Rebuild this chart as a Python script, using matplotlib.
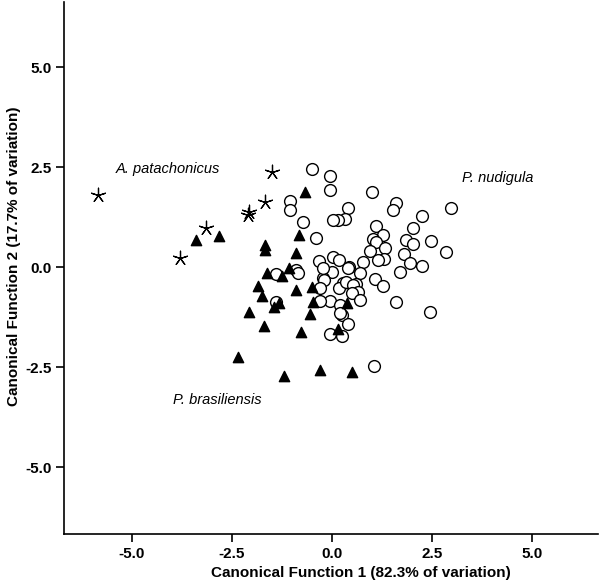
import matplotlib
matplotlib.use("Agg")
import matplotlib.pyplot as plt

plt.rcParams['font.family'] = ['Liberation Sans', 'DejaVu Sans']

# A. patachonicus (asterisks)
apat_x = [-5.85, -3.15, -3.78, -1.50, -1.67, -2.06, -2.10]
apat_y = [1.81, 0.98, 0.23, 2.39, 1.62, 1.37, 1.30]

# P. brasiliensis (filled triangles)
pbra_x = [-3.39, -2.81, -0.67, -0.81, -1.67, -1.67, -0.88, -1.61, -1.23, -1.06,
          -1.84, -0.88, -0.48, -1.73, -0.46, -2.06, -1.44, -1.31, -0.54, -1.69,
          -0.77, 0.16, 0.38, -2.33, -1.19, -0.29, 0.50]
pbra_y = [0.68, 0.77, 1.89, 0.81, 0.56, 0.42, 0.35, -0.14, -0.21, -0.03,
          -0.48, -0.58, -0.49, -0.72, -0.86, -1.13, -1.00, -0.90, -1.17, -1.48,
          -1.63, -1.55, -0.90, -2.25, -2.72, -2.57, -2.63]

# P. nudigula (open circles)
pnud_x = [-0.50, -0.04, -0.03, -1.04, -1.05, 1.02, 1.62, 1.54, 0.42, 0.33,
          0.17, 0.04, -0.72, 2.25, 2.98, 2.04, 1.11, 1.29, 1.04, 1.11,
          1.87, 2.03, 2.48, 2.85, -0.38, 0.96, 1.33, 1.81, 1.30, 1.17,
          0.04, 0.19, -0.32, 0.44, 0.79, 2.27, 1.96, 1.71, 0.00, -0.21,
          0.70, 1.08, 1.28, -0.88, -0.84, -1.39, 0.29, 0.62, -0.21, 0.40,
          -0.19, -0.29, 0.19, 0.37, 0.54, 0.67, 0.50, 0.71, -0.04, -0.28,
          0.21, 0.27, 0.42, -0.04, 0.25, 1.61, 2.46, 1.06, -1.38, 0.21]
pnud_y = [2.46, 2.28, 1.93, 1.65, 1.42, 1.88, 1.60, 1.43, 1.48, 1.21,
          1.18, 1.17, 1.14, 1.29, 1.49, 0.97, 1.04, 0.81, 0.70, 0.62,
          0.68, 0.59, 0.66, 0.39, 0.73, 0.41, 0.47, 0.34, 0.20, 0.17,
          0.26, 0.17, 0.16, 0.00, 0.14, 0.03, 0.10, -0.12, -0.13, -0.28,
          -0.15, -0.30, -0.46, -0.08, -0.14, -0.18, -0.40, -0.42, -0.02, -0.03,
          -0.32, -0.53, -0.53, -0.36, -0.44, -0.61, -0.65, -0.83, -0.84, -0.84,
          -0.94, -1.19, -1.42, -1.67, -1.72, -0.86, -1.11, -2.47, -0.86, -1.15]

ticks = [-5.0, -2.5, 0.0, 2.5, 5.0]
tick_labels = ["-5.0", "-2.5", "0.0", "2.5", "5.0"]

fig = plt.figure(figsize=(6, 5.85), dpi=100)
ax = fig.add_axes([0.1072, 0.0867, 0.8895, 0.91])

ax.scatter(pnud_x, pnud_y, s=72, marker='o', facecolors='white',
           edgecolors='black', linewidths=1.0, zorder=2)
ax.scatter(pbra_x, pbra_y, s=55, marker='^', color='black', zorder=3)
ax.scatter(apat_x, apat_y, s=110, marker=(5, 2, 0), color='black',
           linewidths=0.9, zorder=4)

ax.text(-4.1, 2.45, "A. patachonicus", style='italic', fontsize=10.5,
        ha='center', va='center')
ax.text(4.16, 2.23, "P. nudigula", style='italic', fontsize=10.5,
        ha='center', va='center')
ax.text(-2.87, -3.32, "P. brasiliensis", style='italic', fontsize=10.5,
        ha='center', va='center')

ax.set_xlim(-6.685, 6.66)
ax.set_ylim(-6.675, 6.63)
ax.set_xticks(ticks)
ax.set_xticklabels(tick_labels, fontweight='bold', fontsize=11)
ax.set_yticks(ticks)
ax.set_yticklabels(tick_labels, fontweight='bold', fontsize=11)

for side in ['top', 'right']:
    ax.spines[side].set_visible(False)
for side in ['left', 'bottom']:
    ax.spines[side].set_linewidth(1.2)
ax.tick_params(direction='out', length=5.8, width=1.2, pad=3.5)

ax.set_xlabel("Canonical Function 1 (82.3% of variation)", fontweight='bold',
              fontsize=11)
ax.set_ylabel("Canonical Function 2 (17.7% of variation)", fontweight='bold',
              fontsize=11)
ax.xaxis.set_label_coords(0.556, -0.060)
ax.yaxis.set_label_coords(-0.082, 0.523)

fig.savefig("out.png", dpi=100)
